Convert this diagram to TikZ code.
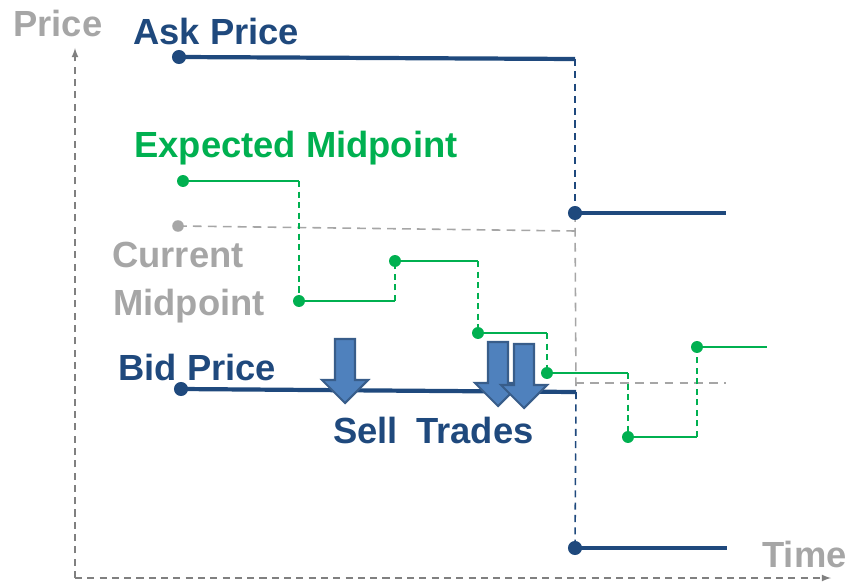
\documentclass[tikz,border=0pt]{standalone}
\usepackage{fontspec}
\setmainfont{Liberation Sans}
\usetikzlibrary{arrows}

\definecolor{navy}{RGB}{31,73,125}
\definecolor{midgreen}{RGB}{0,176,80}
\definecolor{lightgrey}{RGB}{166,166,166}
\definecolor{axisgrey}{RGB}{128,128,128}
\definecolor{tradefill}{RGB}{79,129,189}
\definecolor{tradeedge}{RGB}{56,93,138}

\begin{document}
\begin{tikzpicture}[x=0.02cm, y=-0.02cm,
    lbl/.style={anchor=base west, inner sep=0pt, font=\fontsize{20.7}{24}\selectfont\bfseries},
    quote/.style={line width=2.4pt, navy},
    quotejump/.style={line width=0.9pt, navy, dash pattern=on 4pt off 3pt},
    midline/.style={line width=0.9pt, lightgrey, dash pattern=on 5pt off 3.5pt},
    expline/.style={line width=1.1pt, midgreen},
    expjump/.style={line width=1.1pt, midgreen, dash pattern=on 3.5pt off 2.5pt},
    trade/.style={fill=tradefill, draw=tradeedge, line width=1.2pt, line join=miter}]
      \useasboundingbox (0,0) rectangle (847,584);

      % axes
      \coordinate (origin) at (75,578);
      \coordinate (ytop) at (75,48);
      \coordinate (xend) at (831,578);
      \draw[->, >=latex, axisgrey, dash pattern=on 4pt off 3pt, line width=0.8pt] (origin) -- (ytop);
      \draw[->, >=latex, axisgrey, dash pattern=on 4pt off 3pt, line width=0.8pt] (origin) -- (xend);
      \node[lbl, lightgrey] (price) at (13,37) {Price};
      \node[lbl, lightgrey] (time) at (762,567) {Time};

      % ask and bid quotes
      \coordinate (ask0) at (179,57);
      \coordinate (ask1) at (575,59);
      \coordinate (ask2) at (575,213);
      \coordinate (ask3) at (726,213);
      \coordinate (bid0) at (181,389);
      \coordinate (bid1) at (576,392);
      \coordinate (bid2) at (575,548);
      \coordinate (bid3) at (727,548);
      \coordinate (cur0) at (178,226);
      \coordinate (cur1) at (575,231);
      \coordinate (cur2) at (575,383);
      \coordinate (cur3) at (726,383);

      % current midpoint
      \draw[midline] (cur0) -- (cur1);
      \draw[midline] (ask2) -- (bid1);
      \draw[midline] (cur2) -- (cur3);
      \fill[lightgrey] (cur0) circle (3.3pt);

      \draw[quote] (ask0) -- (ask1);
      \draw[quotejump] (ask1) -- (ask2);
      \draw[quote] (ask2) -- (ask3);
      \draw[quote] (bid0) -- (bid1);
      \draw[quotejump] (bid1) -- (bid2);
      \draw[quote] (bid2) -- (bid3);
      \foreach \p in {ask0,ask2,bid0,bid2}
        \fill[navy] (\p) circle (4pt);

      % expected midpoint
      \coordinate (e0) at (183,181);
      \coordinate (e1) at (299,301);
      \coordinate (e2) at (395,261);
      \coordinate (e3) at (478,333);
      \coordinate (e4) at (547,373);
      \coordinate (e5) at (628,437);
      \coordinate (e6) at (697,347);
      \coordinate (e7) at (767,347);
      \foreach \a/\b in {e0/e1, e1/e2, e2/e3, e3/e4, e4/e5, e5/e6}
      {
        \draw[expline] (\a) -- (\a -| \b);
        \draw[expjump] (\a -| \b) -- (\b);
      }
      \draw[expline] (e6) -- (e7);
      \foreach \p in {e0,e1,e2,e3,e4,e5,e6}
        \fill[midgreen] (\p) circle (3.4pt);

      % sell trades
      \foreach \x/\y in {345/403, 498/406, 524/408}
      {
        \draw[trade] (\x,\y) -- ++(-23,-23) -- ++(13,0) -- ++(0,-41)
          -- ++(20,0) -- ++(0,41) -- ++(13,0) -- cycle;
      }

      \node[lbl, navy] (ask) at (133,45) {Ask Price};
      \node[lbl, midgreen] (expected) at (134,157) {Expected Midpoint};
      \node[lbl, lightgrey] (current) at (112,267) {Current};
      \node[lbl, lightgrey] (midpoint) at (113,315) {Midpoint};
      \node[lbl, navy] (bid) at (118,380) {Bid Price};
      \node[lbl, navy] (sell) at (333,443) {Sell\hspace{0.5em}Trades};
    \end{tikzpicture}
\end{document}
